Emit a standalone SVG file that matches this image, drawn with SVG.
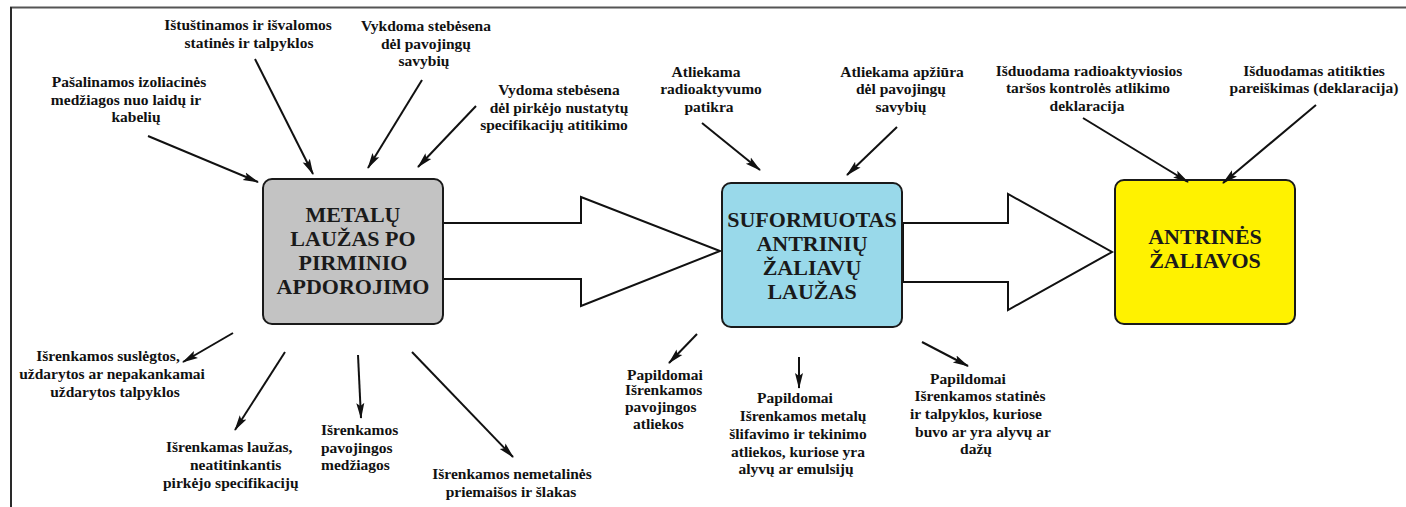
<svg xmlns="http://www.w3.org/2000/svg" width="1406" height="507" viewBox="0 0 1406 507">
<style>
.lbl{font-family:"Liberation Serif","Times New Roman",serif;font-weight:bold;font-size:15.5px;fill:#111;text-anchor:middle}
.st{text-anchor:start}
.box{stroke:#1a1a1a;stroke-width:2}
.big{font-family:"Liberation Serif","Times New Roman",serif;font-weight:bold;font-size:22px;fill:#1a1a1a;text-anchor:middle}
.con line{stroke:#111;stroke-width:2;marker-end:url(#ah)}
.flow{fill:#fff;stroke:#111;stroke-width:2;stroke-linejoin:miter}
</style>
<defs>
<marker id="ah" markerUnits="userSpaceOnUse" markerWidth="17" markerHeight="10" refX="15" refY="5" orient="auto">
<path d="M0,1 L16,5 L0,9 L3,5 z" fill="#111"/>
</marker>
</defs>
<rect width="1406" height="507" fill="#fff"/>
<g id="frame">
<line x1="10" y1="7.5" x2="1406" y2="7.5" stroke="#555" stroke-width="2.2"/>
<line x1="11" y1="7" x2="11" y2="507" stroke="#2a2a2a" stroke-width="2"/>
</g>

<g id="flow-arrows">
<polygon class="flow" points="443,223 581,223 581,197 720,251 581,306 581,279 443,279"/>
<polygon class="flow" points="903,223 1008,223 1008,194 1112,252 1008,310 1008,282 903,282"/>
</g>

<g id="node-metalu">
<rect class="box" x="263" y="179" width="180" height="145" rx="9" fill="#c3c3c3"/>
<text class="big" x="353" y="222">METALŲ</text>
<text class="big" x="353" y="246">LAUŽAS PO</text>
<text class="big" x="353" y="270">PIRMINIO</text>
<text class="big" x="353" y="294">APDOROJIMO</text>
</g>
<g id="node-suformuotas">
<rect class="box" x="722" y="183" width="180" height="144" rx="9" fill="#99d9ea"/>
<text class="big" x="812" y="227">SUFORMUOTAS</text>
<text class="big" x="812" y="251">ANTRINIŲ</text>
<text class="big" x="812" y="275">ŽALIAVŲ</text>
<text class="big" x="812" y="299">LAUŽAS</text>
</g>
<g id="node-antrines">
<rect class="box" x="1115" y="180" width="180" height="144" rx="9" fill="#fff200"/>
<text class="big" x="1205" y="244">ANTRINĖS</text>
<text class="big" x="1205" y="268">ŽALIAVOS</text>
</g>

<g id="connectors" class="con">
<line x1="148" y1="136" x2="258" y2="182"/>
<line x1="255" y1="59" x2="313" y2="174"/>
<line x1="422" y1="80" x2="368" y2="168"/>
<line x1="476" y1="106" x2="418" y2="167"/>
<line x1="702" y1="123" x2="760" y2="170"/>
<line x1="897" y1="127" x2="847" y2="175"/>
<line x1="1083" y1="118" x2="1188" y2="182"/>
<line x1="1316" y1="105" x2="1223" y2="183"/>
<line x1="233" y1="333" x2="183" y2="362"/>
<line x1="285" y1="352" x2="235" y2="430"/>
<line x1="358" y1="355" x2="361" y2="418"/>
<line x1="412" y1="352" x2="513" y2="457"/>
<line x1="697" y1="334" x2="669" y2="363"/>
<line x1="799" y1="357" x2="799" y2="388"/>
<line x1="922" y1="342" x2="968" y2="366"/>
</g>

<g id="label-pasalinamos">
<text class="lbl" x="129" y="87">Pašalinamos izoliacinės</text>
<text class="lbl" x="126" y="105">medžiagos nuo laidų ir</text>
<text class="lbl" x="136" y="122">kabelių</text>
</g>
<g id="label-istustinamos">
<text class="lbl" x="248" y="30">Ištuštinamos ir išvalomos</text>
<text class="lbl" x="249" y="48">statinės ir talpyklos</text>
</g>
<g id="label-vykdoma">
<text class="lbl" x="426" y="31">Vykdoma stebėsena</text>
<text class="lbl" x="426" y="49">dėl pavojingų</text>
<text class="lbl" x="424" y="66">savybių</text>
</g>
<g id="label-vydoma">
<text class="lbl" x="559" y="95">Vydoma stebėsena</text>
<text class="lbl" x="559" y="113">dėl pirkėjo nustatytų</text>
<text class="lbl" x="554" y="130">specifikacijų atitikimo</text>
</g>
<g id="label-radio">
<text class="lbl" x="706" y="77">Atliekama</text>
<text class="lbl" x="711" y="94">radioaktyvumo</text>
<text class="lbl" x="709" y="112">patikra</text>
</g>
<g id="label-apziura">
<text class="lbl" x="902" y="77">Atliekama apžiūra</text>
<text class="lbl" x="901" y="94">dėl pavojingų</text>
<text class="lbl" x="901" y="112">savybių</text>
</g>
<g id="label-isduodama">
<text class="lbl" x="1089" y="76">Išduodama radioaktyviosios</text>
<text class="lbl" x="1088" y="93">taršos kontrolės atlikimo</text>
<text class="lbl" x="1087" y="111">deklaracija</text>
</g>
<g id="label-isduodamas">
<text class="lbl" x="1314" y="76">Išduodamas atitikties</text>
<text class="lbl" x="1314" y="93">pareiškimas (deklaracija)</text>
</g>
<g id="label-suslegtos">
<text class="lbl" x="108" y="361">Išrenkamos suslėgtos,</text>
<text class="lbl" x="112" y="379">uždarytos ar nepakankamai</text>
<text class="lbl" x="115" y="397">uždarytos talpyklos</text>
</g>
<g id="label-lauzas">
<text class="lbl st" x="166" y="452">Išrenkamas laužas,</text>
<text class="lbl st" x="190" y="470">neatitinkantis</text>
<text class="lbl st" x="163" y="488">pirkėjo specifikacijų</text>
</g>
<g id="label-pavojingos">
<text class="lbl st" x="321" y="435">Išrenkamos</text>
<text class="lbl st" x="321" y="453">pavojingos</text>
<text class="lbl st" x="321" y="470">medžiagos</text>
</g>
<g id="label-nemetalines">
<text class="lbl" x="512" y="479">Išrenkamos nemetalinės</text>
<text class="lbl" x="511" y="497">priemaišos ir šlakas</text>
</g>
<g id="label-papildomai-1">
<text class="lbl st" x="627" y="380">Papildomai</text>
<text class="lbl st" x="625" y="395">Išrenkamos</text>
<text class="lbl st" x="625" y="412">pavojingos</text>
<text class="lbl st" x="633" y="429">atliekos</text>
</g>
<g id="label-papildomai-2">
<text class="lbl" x="795" y="403">Papildomai</text>
<text class="lbl" x="803" y="421">Išrenkamos metalų</text>
<text class="lbl" x="798" y="439">šlifavimo ir tekinimo</text>
<text class="lbl" x="798" y="457">atliekos, kuriose yra</text>
<text class="lbl" x="796" y="474">alyvų ar emulsijų</text>
</g>
<g id="label-papildomai-3">
<text class="lbl" x="968" y="384">Papildomai</text>
<text class="lbl" x="980" y="401">Išrenkamos statinės</text>
<text class="lbl" x="976" y="419">ir talpyklos, kuriose</text>
<text class="lbl" x="983" y="437">buvo ar yra alyvų ar</text>
<text class="lbl" x="976" y="454">dažų</text>
</g>
</svg>
